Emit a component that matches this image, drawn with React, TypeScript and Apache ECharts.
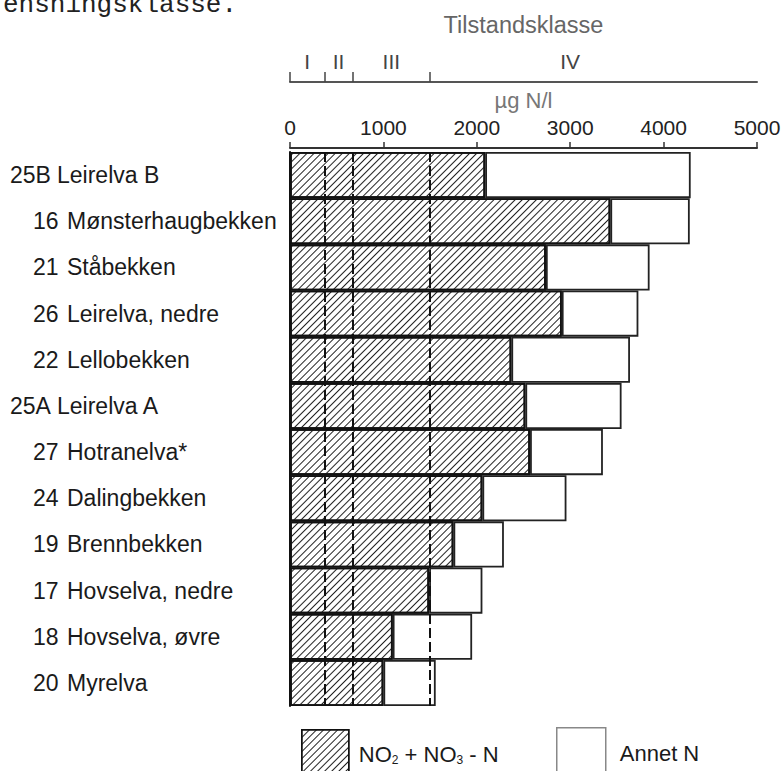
import React, { useEffect, useRef } from "react";
import * as echarts from "echarts";

// Station numbers and names (top to bottom)
const stationNo = ["25B", "16", "21", "26", "22", "25A", "27", "24", "19", "17", "18", "20"];
const stationName = [
  "Leirelva B",
  "Mønsterhaugbekken",
  "Ståbekken",
  "Leirelva, nedre",
  "Lellobekken",
  "Leirelva A",
  "Hotranelva*",
  "Dalingbekken",
  "Brennbekken",
  "Hovselva, nedre",
  "Hovselva, øvre",
  "Myrelva",
];
// NO2 + NO3 - N (µg N/l)
const nitrate = [2090, 3430, 2740, 2910, 2370, 2520, 2570, 2060, 1750, 1490, 1100, 1000];
// Total N (µg N/l) = NO2+NO3-N + Annet N
const totalN = [4290, 4280, 3850, 3730, 3640, 3550, 3350, 2960, 2290, 2060, 1950, 1560];
// Value axis ticks
const valueTicks = [0, 1000, 2000, 3000, 4000, 5000];
// Tilstandsklasse boundaries and labels
const classBounds = [0, 370, 670, 1500];
const classLabelAt = [185, 520, 1085, 3000];
const classLabels = ["I", "II", "III", "IV"];

const FONT = "'Liberation Sans', Arial, Helvetica, sans-serif";

export default function App() {
  const ref = useRef<HTMLDivElement>(null);
  useEffect(() => {
    if (!ref.current) return;
    const chart = echarts.init(ref.current, null, { renderer: "svg" });
    const annet = totalN.map((t, i) => t - nitrate[i]);
    const wide = (n: string) => /[A-Z]$/.test(n);
    const option: any = {
      animation: false,
      backgroundColor: "#ffffff",
      textStyle: { fontFamily: FONT },
      grid: { left: 290, width: 467, top: 152, height: 554, containLabel: false },
      graphic: [
        {
          type: "text",
          left: 3,
          top: -8,
          style: {
            text: "ensningsklasse.",
            font: "26px 'Liberation Mono', 'DejaVu Sans Mono', monospace",
            fill: "#222",
          },
        },
      ],
      legend: [
        {
          data: ["NO2 + NO3 - N"],
          left: 301,
          top: 729,
          padding: 0,
          icon: "rect",
          itemWidth: 47,
          itemHeight: 50,
          selectedMode: false,
          itemStyle: { borderColor: "#111", borderWidth: 1.5 },
          textStyle: {
            fontSize: 22,
            color: "#1a1a1a",
            fontFamily: FONT,
            padding: [0, 0, 0, 5],
            rich: {
              b: { fontSize: 22, color: "#1a1a1a", fontFamily: FONT },
              s: { fontSize: 12, color: "#1a1a1a", fontFamily: FONT, padding: [10, 0, 0, 0] },
            },
          },
          formatter: () => "{b|NO}{s|2}{b| + NO}{s|3}{b| - N}",
        },
        {
          data: ["Annet N"],
          left: 556,
          top: 727,
          padding: 0,
          icon: "rect",
          itemWidth: 49,
          itemHeight: 52,
          selectedMode: false,
          itemStyle: { borderColor: "#888", borderWidth: 1.5 },
          textStyle: { fontSize: 22, color: "#1a1a1a", fontFamily: FONT, padding: [0, 0, 0, 9] },
        },
      ],
      xAxis: [
        {
          type: "value",
          position: "top",
          offset: 4,
          min: valueTicks[0],
          max: valueTicks[valueTicks.length - 1],
          interval: 1000,
          name: "µg N/l",
          nameLocation: "middle",
          nameGap: 37,
          nameTextStyle: { fontSize: 22, color: "#777", fontFamily: FONT },
          axisLine: { show: true, lineStyle: { color: "#333", width: 2 } },
          axisTick: { show: true, length: 6, lineStyle: { color: "#333", width: 1.5 } },
          axisLabel: {
            fontSize: 21,
            color: "#222",
            margin: 10,
            fontFamily: FONT,
            formatter: (v: number) => String(v),
          },
          splitLine: { show: false },
        },
        {
          type: "value",
          position: "top",
          offset: 70,
          min: valueTicks[0],
          max: valueTicks[valueTicks.length - 1],
          name: "Tilstandsklasse",
          nameLocation: "middle",
          nameGap: 45,
          nameTextStyle: { fontSize: 23.5, color: "#666", fontFamily: FONT },
          axisLine: { show: true, lineStyle: { color: "#555", width: 2 } },
          axisTick: {
            show: true,
            customValues: classBounds,
            length: 10,
            lineStyle: { color: "#444", width: 1.5 },
          },
          axisLabel: {
            customValues: classLabelAt,
            fontSize: 21,
            color: "#444",
            margin: 10,
            fontFamily: FONT,
            formatter: (v: number) => classLabels[classLabelAt.indexOf(v)] ?? "",
          },
          splitLine: { show: false },
        },
      ],
      yAxis: {
        type: "category",
        inverse: true,
        data: stationNo.map((n, i) => n + " " + stationName[i]),
        axisLine: { show: true, lineStyle: { color: "#111", width: 2 } },
        axisTick: { show: false },
        axisLabel: {
          align: "left",
          margin: 280,
          fontSize: 23,
          color: "#1a1a1a",
          fontFamily: FONT,
          formatter: (_v: string, i: number) =>
            wide(stationNo[i])
              ? `{w|${stationNo[i]}}{n|${stationName[i]}}`
              : `{a|${stationNo[i]}}{n|${stationName[i]}}`,
          rich: {
            w: { width: 47, fontSize: 23, color: "#1a1a1a", fontFamily: FONT },
            a: { width: 34, padding: [0, 0, 0, 23], fontSize: 23, color: "#1a1a1a", fontFamily: FONT },
            n: { fontSize: 23, color: "#1a1a1a", fontFamily: FONT },
          },
        },
      },
      series: [
        {
          name: "NO2 + NO3 - N",
          type: "bar",
          stack: "n",
          barCategoryGap: "0%",
          data: nitrate,
          itemStyle: {
            color: "#ffffff",
            borderColor: "#111",
            borderWidth: 1.8,
            decal: {
              symbol: "rect",
              symbolSize: 1,
              color: "#222",
              dashArrayX: [1, 0],
              dashArrayY: [1, 4],
              rotation: -Math.PI / 4,
            },
          },
        },
        {
          name: "Annet N",
          type: "bar",
          stack: "n",
          barCategoryGap: "0%",
          data: annet,
          itemStyle: { color: "#ffffff", borderColor: "#222", borderWidth: 1.8 },
          markLine: {
            silent: true,
            symbol: "none",
            label: { show: false },
            lineStyle: { color: "#111", type: [10, 4], width: 2 },
            data: classBounds.slice(1).map((v) => ({ xAxis: v })),
          },
        },
      ],
    };
    chart.setOption(option);
    return () => chart.dispose();
  }, []);
  return (
    <div
      ref={ref}
      style={{ position: "fixed", left: 0, top: 0, width: 784, height: 771, background: "#fff" }}
    />
  );
}
